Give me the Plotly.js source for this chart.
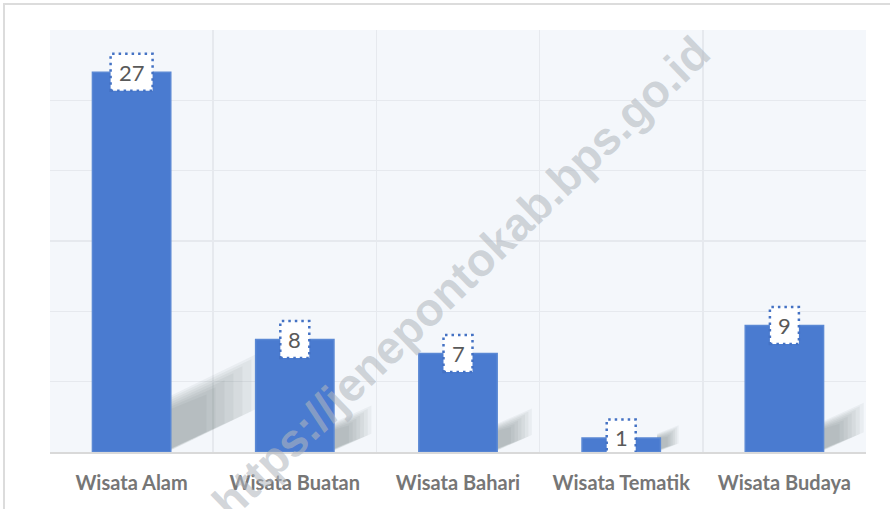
<!DOCTYPE html>
<html>
<head>
<meta charset="utf-8">
<script src="https://cdn.plot.ly/plotly-3.0.1.min.js"></script>
<style>
  html, body { margin: 0; padding: 0; background: #ffffff; overflow: hidden; }
  #chart { width: 890px; height: 509px; }
  #frame { position: absolute; left: 3px; top: 3px; width: 900px; height: 520px;
           border-left: 2px solid #dcdcdc; border-top: 2px solid #dcdcdc; pointer-events: none; }
</style>
</head>
<body>
<div id="chart"></div>
<div id="frame"></div>
<script>
const categories = ['Wisata Alam', 'Wisata Buatan', 'Wisata Bahari', 'Wisata Tematik', 'Wisata Budaya'];
const values = [27, 8, 7, 1, 9];
const valueLabels = ['27', '8', '7', '1', '9'];
const watermarkText = 'https://jenepontokab.bps.go.id';

const idx = categories.map((_, i) => i);
const barWidth = 0.48;

const bars = {
  type: 'bar',
  x: idx,
  y: values,
  width: barWidth,
  marker: { color: '#4a7bd0', line: { color: '#5a88d4', width: 1.5 } },
  hoverinfo: 'skip'
};

const shapes = [];
// soft perspective shadows, derived from each bar's value
const shadowSteps = [1.0, 0.9, 0.8, 0.7, 0.6, 0.5, 0.4];
values.forEach((v, i) => {
  const xR = i + barWidth / 2;
  shadowSteps.forEach(s => {
    const L = (0.095 + 0.0168 * v) * s;
    const T = (1.2 + 0.1 * v) * (0.6 + 0.4 * s);
    const R = (0.5 + 0.1 * v) * s;
    const d = (1 - s) * 0.25;
    shapes.push({
      type: 'path', xref: 'x', yref: 'y', layer: 'between',
      path: `M ${xR - 0.02},${d} L ${xR - 0.02},${T} L ${xR + L},${T + R - d} L ${xR + L},${R + d} Z`,
      fillcolor: 'rgba(95,100,108,0.065)', line: { width: 0 }
    });
  });
});
// dotted label boxes
values.forEach((v, i) => {
  const w = 16 + 13 * valueLabels[i].length;
  shapes.push({
    type: 'rect', xref: 'x', yref: 'y', layer: 'above',
    xsizemode: 'pixel', ysizemode: 'pixel', xanchor: i, yanchor: v,
    x0: -w / 2, x1: w / 2, y0: -18.5, y1: 18.5,
    fillcolor: '#ffffff',
    line: { color: '#4472c4', width: 2.5, dash: '2.5px,4px' }
  });
});

const annotations = values.map((v, i) => ({
  x: i, y: v, xref: 'x', yref: 'y', text: valueLabels[i], showarrow: false,
  font: { family: 'Lato, sans-serif', size: 22, color: '#595959' }
}));
annotations.push({
  xref: 'paper', yref: 'paper', x: 0.504, y: 0.415, text: watermarkText, showarrow: false,
  textangle: -44,
  font: { family: 'Liberation Sans, Arial, sans-serif', size: 46, weight: 'bold', color: 'rgba(178,183,190,0.58)' }
});

const boundaries = [];
for (let i = 0; i <= categories.length; i++) boundaries.push(i - 0.5);

const layout = {
  width: 890, height: 509,
  margin: { l: 50, r: 24, t: 30, b: 57 },
  paper_bgcolor: '#ffffff',
  plot_bgcolor: '#f4f7fb',
  showlegend: false,
  xaxis: {
    range: [-0.5, categories.length - 0.5],
    tickmode: 'array', tickvals: idx, ticktext: categories,
    showgrid: false, zeroline: false,
    showline: true, linecolor: '#d9d9d9', linewidth: 1.5,
    ticks: '', ticklabelstandoff: 12,
    tickfont: { family: 'Lato, sans-serif', size: 20, weight: 'bold', color: '#767676' },
    minor: { tickmode: 'array', tickvals: boundaries, showgrid: true, gridcolor: '#e6e9ee', gridwidth: 1.5, ticks: '' },
    fixedrange: true
  },
  yaxis: {
    range: [0, 30], dtick: 5, showticklabels: false, ticks: '',
    showgrid: true, gridcolor: '#e6e9ee', gridwidth: 1.5, zeroline: false,
    fixedrange: true
  },
  shapes: shapes,
  annotations: annotations
};

Plotly.newPlot('chart', [bars], layout, { displayModeBar: false, staticPlot: true });
</script>
</body>
</html>
